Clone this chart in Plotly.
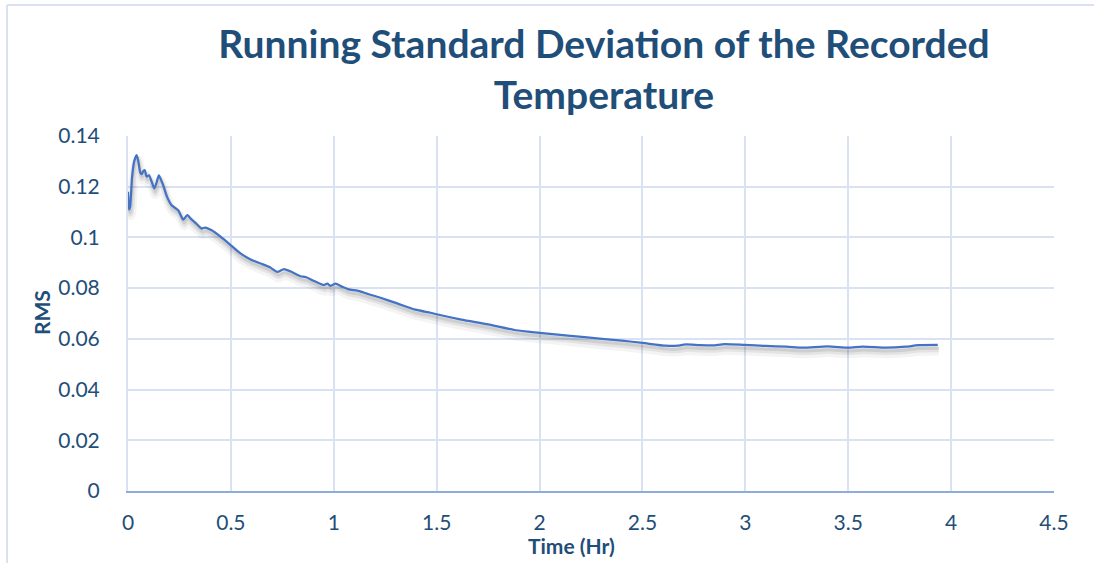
import plotly.graph_objects as go

# Running standard deviation of the recorded temperature
time_hr = [0.000, 0.005, 0.010, 0.020, 0.030, 0.042, 0.050, 0.060, 0.066, 0.075,
           0.082, 0.090, 0.102, 0.115, 0.128, 0.140, 0.150, 0.160, 0.171, 0.190,
           0.212, 0.244, 0.269, 0.288, 0.310, 0.335, 0.358, 0.375, 0.407, 0.451,
           0.500, 0.550, 0.596, 0.645, 0.690, 0.726, 0.758, 0.800, 0.839, 0.863,
           0.910, 0.952, 0.968, 0.984, 1.009, 1.040, 1.073, 1.114, 1.170, 1.227,
           1.308, 1.397, 1.470, 1.500, 1.620, 1.750, 1.885, 2.000, 2.150, 2.290,
           2.400, 2.500, 2.614, 2.670, 2.710, 2.780, 2.840, 2.900, 2.996, 3.100,
           3.200, 3.280, 3.400, 3.500, 3.570, 3.685, 3.780, 3.840, 3.935]
rms = [0.1180, 0.1110, 0.1120, 0.1240, 0.1300, 0.1325, 0.1300, 0.1255, 0.1250, 0.1262,
       0.1265, 0.1240, 0.1245, 0.1220, 0.1193, 0.1220, 0.1245, 0.1228, 0.1206, 0.1160,
       0.1127, 0.1107, 0.1070, 0.1088, 0.1070, 0.1052, 0.1035, 0.1039, 0.1028, 0.1002,
       0.0969, 0.0935, 0.0913, 0.0897, 0.0882, 0.0864, 0.0875, 0.0862, 0.0847, 0.0844,
       0.0826, 0.0812, 0.0818, 0.0809, 0.0818, 0.0806, 0.0795, 0.0790, 0.0776, 0.0762,
       0.0740, 0.0715, 0.0703, 0.0697, 0.0676, 0.0657, 0.0634, 0.0624, 0.0612, 0.0601,
       0.0593, 0.0584, 0.0573, 0.0573, 0.0578, 0.0575, 0.0574, 0.0579, 0.0576, 0.0572,
       0.0569, 0.0565, 0.0570, 0.0565, 0.0569, 0.0565, 0.0569, 0.0575, 0.0576]

x_ticks = [0, 0.5, 1, 1.5, 2, 2.5, 3, 3.5, 4, 4.5]
x_tick_text = ["0", "0.5", "1", "1.5", "2", "2.5", "3", "3.5", "4", "4.5"]
y_ticks = [0, 0.02, 0.04, 0.06, 0.08, 0.1, 0.12, 0.14]
y_tick_text = ["0", "0.02", "0.04", "0.06", "0.08", "0.1", "0.12", "0.14"]

TEXT_BLUE = "#1F4E79"
LINE_BLUE = "#4472C4"
GRID = "#D9E2F3"
AXIS = "#8FAADC"
FONT = "Lato"

fig = go.Figure()

# soft drop shadow beneath the series
for dy, dx, w, a in [(0.0022, 0.006, 10, 0.045), (0.0017, 0.005, 6, 0.065), (0.0013, 0.004, 3, 0.09)]:
    fig.add_trace(go.Scatter(
        x=[t + dx for t in time_hr], y=[v - dy for v in rms], mode="lines",
        line=dict(color=f"rgba(0,0,0,{a})", width=w, shape="spline", smoothing=0.6),
        hoverinfo="skip", showlegend=False))

fig.add_trace(go.Scatter(
    x=time_hr, y=rms, mode="lines", name="RMS",
    line=dict(color=LINE_BLUE, width=2.25, shape="spline", smoothing=0.6),
    showlegend=False))

L, R, T, B = 128, 40, 136, 72
W, H = 1094, 563
pw, ph = W - L - R, H - T - B

def px_x(p):
    return (p - L) / pw

def px_y(p):
    return (H - B - p) / ph

fig.update_layout(
    width=W, height=H,
    margin=dict(l=L, r=R, t=T, b=B),
    paper_bgcolor="white", plot_bgcolor="white",
    font=dict(family=FONT, color=TEXT_BLUE),
    title=dict(
        text="Running Standard Deviation of the Recorded<br>Temperature",
        font=dict(family=FONT, size=39, color=TEXT_BLUE, weight="bold"),
        x=604 / W, xanchor="center", y=1 - 58 / H, yanchor="middle"),
    xaxis=dict(
        range=[0, 4.5], tickvals=x_ticks, ticktext=x_tick_text,
        showgrid=True, gridcolor=GRID, gridwidth=1.5,
        showline=True, linecolor=AXIS, linewidth=2,
        zeroline=False, ticks="", ticklabelstandoff=12,
        tickfont=dict(family=FONT, size=21, color=TEXT_BLUE)),
    yaxis=dict(
        range=[0, 0.14], tickvals=y_ticks, ticktext=y_tick_text,
        showgrid=True, gridcolor=GRID, gridwidth=1.5,
        showline=True, linecolor=GRID, linewidth=2,
        zeroline=False, ticks="", ticklabelstandoff=22,
        tickfont=dict(family=FONT, size=21, color=TEXT_BLUE)),
    annotations=[
        dict(text="<b>Time (Hr)</b>", xref="paper", yref="paper",
             x=px_x(571), y=px_y(545), xanchor="center", yanchor="middle",
             showarrow=False, font=dict(family=FONT, size=21, color=TEXT_BLUE)),
        dict(text="<b>RMS</b>", xref="paper", yref="paper",
             x=px_x(41), y=px_y(313), xanchor="center", yanchor="middle",
             textangle=-90, showarrow=False,
             font=dict(family=FONT, size=21, color=TEXT_BLUE)),
    ],
    shapes=[
        dict(type="line", xref="paper", yref="paper",
             x0=px_x(7), x1=px_x(W + 5), y0=px_y(5), y1=px_y(5),
             line=dict(color=GRID, width=2)),
        dict(type="line", xref="paper", yref="paper",
             x0=px_x(7), x1=px_x(7), y0=px_y(5), y1=px_y(H + 5),
             line=dict(color=GRID, width=2)),
    ],
)

fig.write_html("out.html")
